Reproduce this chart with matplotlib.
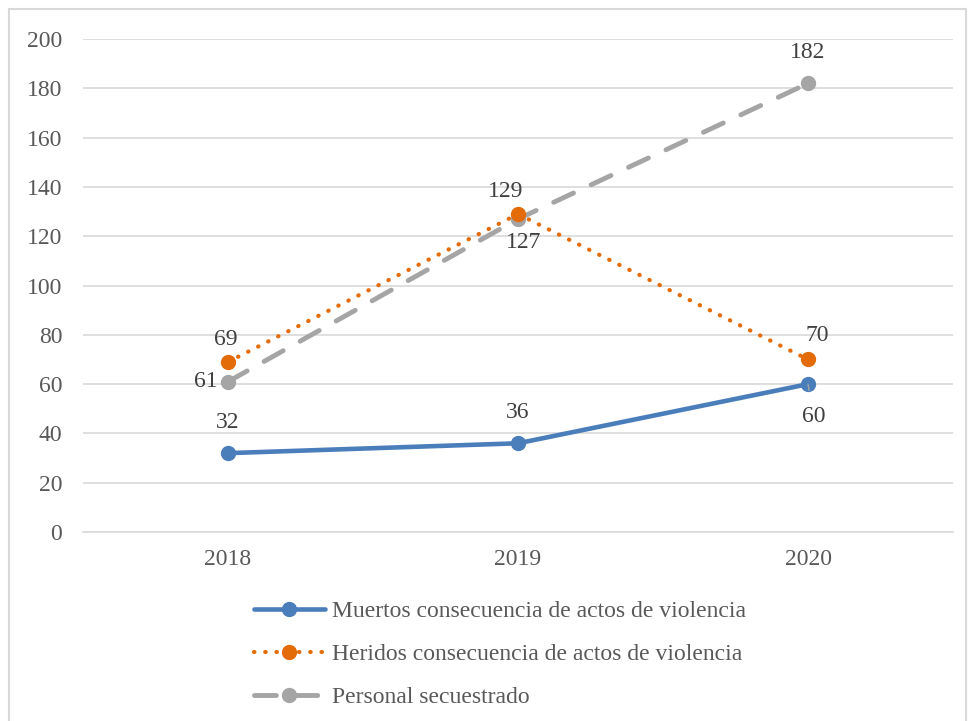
import matplotlib.pyplot as plt
from matplotlib.patches import Rectangle

plt.rcParams['font.family'] = ['Liberation Serif', 'DejaVu Serif']

years = ['2018', '2019', '2020']
muertos = [32, 36, 60]
heridos = [69, 129, 70]
secuestrados = [61, 127, 182]

labels = ['Muertos consecuencia de actos de violencia',
          'Heridos consecuencia de actos de violencia',
          'Personal secuestrado']

blue = '#4a7ebb'
orange = '#e36c09'
gray = '#a5a5a5'
text_c = '#595959'


def main():
    fig = plt.figure(figsize=(9.69, 7.21), dpi=100)
    ax = fig.add_axes([0.0857, 0.2621, 0.8978, 0.6838])
    x = range(len(years))

    l1, = ax.plot(x, muertos, color=blue, lw=3.3, marker='o', ms=10,
                  solid_capstyle='round', zorder=3)
    l2, = ax.plot(x, heridos, color=orange, lw=3, ls=(0, (0.1, 2.6)),
                  dash_capstyle='round', marker='o', ms=10, zorder=3)
    l3, = ax.plot(x, secuestrados, color=gray, lw=3.5, ls=(0, (4.5, 4)),
                  dash_capstyle='round', marker='o', ms=10, zorder=2)

    ax.set_xlim(-0.5, 2.5)
    ax.set_ylim(0, 200)
    ax.set_yticks(range(0, 201, 20))
    ax.set_xticks(list(x))
    ax.set_xticklabels(years)
    ax.grid(axis='y', color='#d9d9d9', lw=1.2)
    ax.set_axisbelow(True)
    for s in ax.spines.values():
        s.set_visible(False)
    ax.spines['bottom'].set_visible(True)
    ax.spines['bottom'].set_color('#d9d9d9')
    ax.spines['bottom'].set_linewidth(1.2)
    ax.tick_params(length=0, labelsize=17, colors=text_c)
    ax.tick_params(axis='y', pad=15)
    ax.tick_params(axis='x', pad=12)

    kw = dict(textcoords='offset points', fontsize=17, color='#404040',
              ha='center', va='center')
    # muertos
    ax.annotate(str(muertos[0]), (0, muertos[0]), xytext=(0, 22), **kw)
    ax.annotate(str(muertos[1]), (1, muertos[1]), xytext=(0, 22), **kw)
    ax.annotate(str(muertos[2]), (2, muertos[2]), xytext=(4, -23),
                arrowprops=dict(arrowstyle='-', color=gray, lw=1,
                                shrinkA=9, shrinkB=0), **kw)
    # heridos
    ax.annotate(str(heridos[0]), (0, heridos[0]), xytext=(-2, 16), **kw)
    ax.annotate(str(heridos[1]), (1, heridos[1]), xytext=(-9, 16), **kw)
    ax.annotate(str(heridos[2]), (2, heridos[2]), xytext=(7, 17), **kw)
    # secuestrados
    ax.annotate(str(secuestrados[0]), (0, secuestrados[0]), xytext=(-16, 0), **kw)
    ax.annotate(str(secuestrados[1]), (1, secuestrados[1]), xytext=(4, -17), **kw)
    ax.annotate(str(secuestrados[2]), (2, secuestrados[2]), xytext=(0, 22), **kw)

    fig.legend([l1, l2, l3], labels, loc='upper left',
               bbox_to_anchor=(0.24, 0.196), frameon=False,
               fontsize=17, handlelength=3.0, handletextpad=0.3,
               labelspacing=0.9, labelcolor=text_c)

    fig.patches.append(Rectangle((0.009, -0.01), 0.988, 0.998,
                                 transform=fig.transFigure, fill=False,
                                 edgecolor='#d9d9d9', lw=1.5))

    fig.savefig('out.png', dpi=100)


if __name__ == "__main__":
    main()
